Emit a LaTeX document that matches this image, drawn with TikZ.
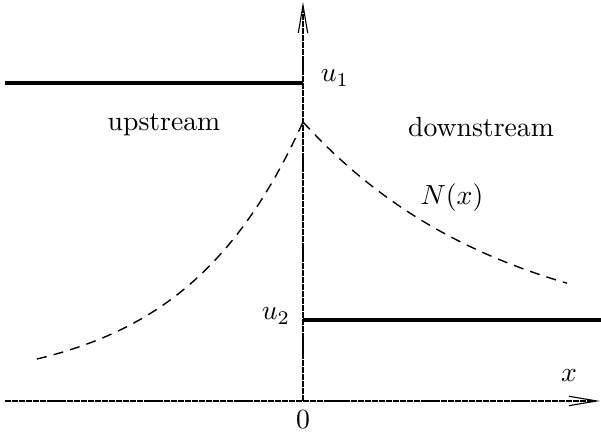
\documentclass[tikz,border=0pt]{standalone}
\usetikzlibrary{arrows.meta}

\tikzset{
  axis/.style={line width=0.4pt, dash pattern=on 2.2pt off 0.3pt, -{Straight Barb[length=10pt,width=3.4pt]}},
  level/.style={line width=1.1pt},
  density/.style={line width=0.5pt, dash pattern=on 3.6pt off 2.6pt}
}

\begin{document}
\begin{tikzpicture}[x=0.361pt,y=-0.361pt]
\useasboundingbox (0,0) rectangle (601,436);

% axes
\coordinate (origin) at (303,401);
\coordinate (xend) at (600,401);
\coordinate (xstart) at (5,401);
\coordinate (yend) at (303,2);
\draw[axis] (xstart) -- (xend);
\draw[axis] (origin) -- (yend);

% flow speed on both sides of the shock
\draw[level] (5,83) -- (303,83);
\draw[level] (303,320) -- (601,320);

% particle density
\draw[density] plot[domain=37:303, samples=50] (\x, {388-266*exp((\x-303)/120)});
\draw[density] plot[domain=303:567, samples=50] (\x, {342-220*exp(-(\x-303)/200)});

\node (uone) at (335,78) {$u_1$};
\node (utwo) at (276,316) {$u_2$};
\node (zero) at (303,420) {$0$};
\node (xlab) at (569,376) {$x$};
\node (nlab) at (452,198) {$N(x)$};
\node (up) at (164,125) {upstream};
\node (down) at (481,127) {downstream};

\end{tikzpicture}
\end{document}
